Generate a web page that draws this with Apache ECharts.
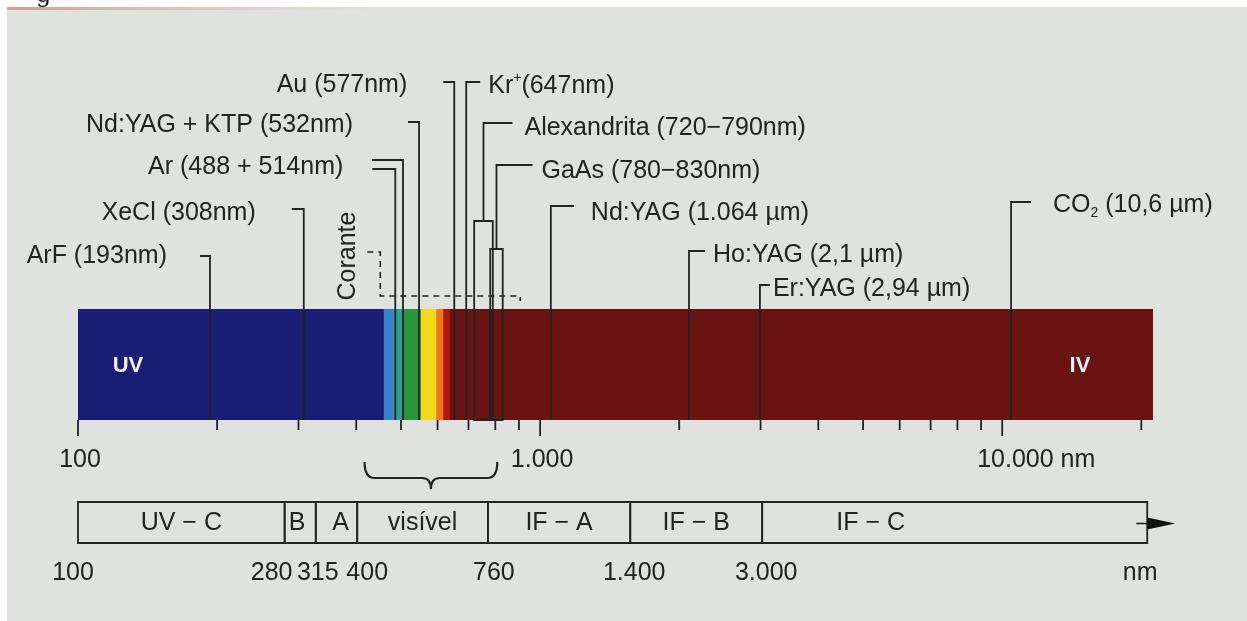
<!DOCTYPE html>
<html><head><meta charset="utf-8">
<script src="https://cdn.jsdelivr.net/npm/echarts@6/dist/echarts.min.js"></script>
<style>html,body{margin:0;padding:0;background:#fff;} #c{width:1247px;height:621px;}</style>
</head><body><div id="c"></div>
<script>
// ================= DATA (wavelengths in nm) =================
const spectrumEdgesNm = [100, 459, 481, 505, 552, 596, 617, 638, 21200];
const laserNames = ['ArF (193nm)', 'XeCl (308nm)', 'Ar (488 + 514nm)', '', 'Nd:YAG + KTP (532nm)',
  'Au (577nm)', 'Kr+(647nm)', 'Nd:YAG (1.064 µm)', 'Ho:YAG (2,1 µm)', 'Er:YAG (2,94 µm)', 'CO2 (10,6 µm)'];
// positions where the figure draws each laser line
const laserNm = [193, 308, 486, 505, 547, 652, 692, 1055, 2100, 2990, 10450];
const rangeNames = ['Alexandrita (720−790nm)', 'GaAs (780−830nm)'];
const rangeStartNm = [720, 780];
const rangeEndNm = [790, 830];
const dyeName = 'Corante';
const dyeRangeNm = [451, 906];
const axisTickNm = [100, 200, 300, 400, 500, 600, 700, 800, 900, 1000,
  2000, 3000, 4000, 5000, 6000, 7000, 8000, 9000, 10000, 20000];
const axisLabelNm = [100, 1000, 10000];
const axisLabelText = ['100', '1.000', '10.000 nm'];
const visibleBraceNm = [417, 808];
const bandNames = ['UV − C', 'B', 'A', 'visível', 'IF − A', 'IF − B', 'IF − C'];
const bandEdgesNm = [100, 280, 327, 402, 771, 1567, 3024, 20600];
const bandEdgeLabels = ['100', '280', '315', '400', '760', '1.400', '3.000'];
const bandUnit = 'nm';
const regionNames = ['UV', 'IV'];

// ================= LAYOUT / STYLE =================
const FONT = "'Liberation Sans', Arial, Helvetica, sans-serif";
const FS = 25;
const INK = '#222222';
const BAR = { top: 309, bottom: 420 };
const spectrumColors = ['#1b1d74', '#3b80cc', '#2e9e94', '#2a943e', '#f1da1e', '#ec7a1a', '#b2180f', '#6a1313'];
const laserLayout = [
  { y: 256, side: -1, len: 10, gap: 33, ty: 256 },
  { y: 209, side: -1, len: 12, gap: 36, ty: 213 },
  { y: 169, side: -1, len: 23, gap: 29, ty: 167 },
  { y: 160, side: -1, len: 31, gap: 0, ty: 0 },
  { y: 122, side: -1, len: 11, gap: 55, ty: 125 },
  { y: 82, side: -1, len: 11, gap: 36, ty: 85 },
  { y: 82, side: 1, len: 14, gap: 8, ty: 86 },
  { y: 206, side: 1, len: 23, gap: 17, ty: 213 },
  { y: 251, side: 1, len: 16, gap: 8, ty: 255 },
  { y: 285, side: 1, len: 10, gap: 3, ty: 289 },
  { y: 202, side: 1, len: 20, gap: 22, ty: 205 }
];
const rangeLayout = [
  { top: 221, y: 123, len: 29, gap: 12, ty: 128 },
  { top: 249, y: 165, len: 36, gap: 9, ty: 171 }
];
const DYE = { stub: 13, topY: 252, baseY: 296, tick: 5, textDx: -32, textY: 256 };
const TICK = { major: 16, minor: 10, labelY: 460, labelShift: [2, 2, -25], align: ['center', 'center', 'left'] };
const BRACE = { top: 462, mid: 478, tip: 489 };
const BAND = { top: 502, bottom: 543, textY: 523, edgeY: 573,
  labelShift: [0, -3, 4, 0, 0, 0, -84], edgeShift: [-5, -13, 2, 10, 6, 4, 4], unitShift: -7 };
const REGION = { y: 366, at: [128, 1080] };

const richStyles = {
  n: { fontFamily: FONT, fontSize: FS, fill: INK, lineHeight: 30 },
  sup: { fontFamily: FONT, fontSize: 14, fill: INK, lineHeight: 30, verticalAlign: 'top' },
  sub: { fontFamily: FONT, fontSize: 14, fill: INK, lineHeight: 30, verticalAlign: 'bottom' }
};
function labelText(s) {
  if (s.indexOf('Kr+') === 0) return '{n|Kr}{sup|+}{n|' + s.slice(3) + '}';
  if (s.indexOf('CO2') === 0) return '{n|CO}{sub|2}{n|' + s.slice(3) + '}';
  return '{n|' + s + '}';
}
function textEl(s, x, y, align) {
  return { type: 'text', style: { text: labelText(s), rich: richStyles, x: x, y: y, align: align, verticalAlign: 'middle' } };
}
const lineStyle = { stroke: INK, lineWidth: 1.8, fill: 'none' };

const chart = echarts.init(document.getElementById('c'), null, { renderer: 'canvas' });
function X(api, nm) { return api.coord([nm, 0.5])[0]; }

const series = [];

// spectrum bar
series.push({
  type: 'custom', silent: true, clip: false,
  data: spectrumColors.map((c, i) => [spectrumEdgesNm[i], 0.5]),
  renderItem(params, api) {
    const i = params.dataIndex;
    const x0 = X(api, spectrumEdgesNm[i]), x1 = X(api, spectrumEdgesNm[i + 1]);
    return { type: 'rect', shape: { x: x0, y: BAR.top, width: x1 - x0 + (i < spectrumColors.length - 1 ? 0.6 : 0), height: BAR.bottom - BAR.top },
      style: { fill: spectrumColors[i] } };
  }
});

// region names inside bar
series.push({
  type: 'custom', silent: true, clip: false,
  data: regionNames.map(() => [100, 0.5]),
  renderItem(params) {
    const i = params.dataIndex;
    return { type: 'text', style: { text: regionNames[i], x: REGION.at[i], y: REGION.y, align: 'center', verticalAlign: 'middle',
      fontFamily: FONT, fontSize: 22, fontWeight: 'bold', fill: '#eef0f4' } };
  }
});

// laser lines
series.push({
  type: 'custom', silent: true, clip: false,
  data: laserNm.map(v => [v, 0.5]),
  renderItem(params, api) {
    const i = params.dataIndex, L = laserLayout[i];
    const x = X(api, laserNm[i]);
    const bx = x + L.side * L.len;
    const ch = [{ type: 'polyline', shape: { points: [[bx, L.y], [x, L.y], [x, BAR.bottom]] }, style: lineStyle }];
    if (laserNames[i]) ch.push(textEl(laserNames[i], bx + L.side * L.gap, L.ty, L.side < 0 ? 'right' : 'left'));
    return { type: 'group', children: ch };
  }
});

// wavelength ranges (boxes)
series.push({
  type: 'custom', silent: true, clip: false,
  data: rangeStartNm.map(v => [v, 0.5]),
  renderItem(params, api) {
    const i = params.dataIndex, R = rangeLayout[i];
    const x0 = X(api, rangeStartNm[i]), x1 = X(api, rangeEndNm[i]);
    const xm = X(api, Math.sqrt(rangeStartNm[i] * rangeEndNm[i]));
    return { type: 'group', children: [
      { type: 'rect', shape: { x: x0, y: R.top, width: x1 - x0, height: BAR.bottom - R.top }, style: lineStyle },
      { type: 'polyline', shape: { points: [[xm + R.len, R.y], [xm, R.y], [xm, R.top]] }, style: lineStyle },
      textEl(rangeNames[i], xm + R.len + R.gap, R.ty, 'left')
    ] };
  }
});

// dye laser (Corante) dashed range
series.push({
  type: 'custom', silent: true, clip: false,
  data: [[dyeRangeNm[0], 0.5]],
  renderItem(params, api) {
    const x0 = X(api, dyeRangeNm[0]), x1 = X(api, dyeRangeNm[1]);
    const dash = { stroke: INK, lineWidth: 1.6, fill: 'none', lineDash: [6, 5] };
    return { type: 'group', children: [
      { type: 'polyline', shape: { points: [[x0 - DYE.stub, DYE.topY], [x0, DYE.topY], [x0, DYE.baseY], [x1, DYE.baseY], [x1, DYE.baseY + DYE.tick]] }, style: dash },
      { type: 'text', x: x0 + DYE.textDx, y: DYE.textY, rotation: Math.PI / 2,
        style: { text: dyeName, x: 0, y: 0, align: 'center', verticalAlign: 'middle', fontFamily: FONT, fontSize: FS, fill: INK } }
    ] };
  }
});

// axis ticks
series.push({
  type: 'custom', silent: true, clip: false,
  data: axisTickNm.map(v => [v, 0.5]),
  renderItem(params, api) {
    const v = axisTickNm[params.dataIndex];
    const x = X(api, v);
    const major = Math.abs(Math.log10(v) - Math.round(Math.log10(v))) < 1e-9;
    return { type: 'line', shape: { x1: x, y1: BAR.bottom, x2: x, y2: BAR.bottom + (major ? TICK.major : TICK.minor) },
      style: { stroke: INK, lineWidth: 1.8 } };
  }
});

// axis labels
series.push({
  type: 'custom', silent: true, clip: false,
  data: axisLabelNm.map(v => [v, 0.5]),
  renderItem(params, api) {
    const i = params.dataIndex;
    const x = X(api, axisLabelNm[i]) + TICK.labelShift[i];
    return { type: 'text', style: { text: axisLabelText[i], x: x, y: TICK.labelY, align: TICK.align[i], verticalAlign: 'middle',
      fontFamily: FONT, fontSize: FS, fill: INK } };
  }
});

// brace for visible range
series.push({
  type: 'custom', silent: true, clip: false,
  data: [[visibleBraceNm[0], 0.5]],
  renderItem(params, api) {
    const a = X(api, visibleBraceNm[0]), b = X(api, visibleBraceNm[1]);
    const m = (a + b) / 2, t = BRACE.top, c = BRACE.mid, p = BRACE.tip;
    const d = 'M' + a + ',' + t + ' Q' + a + ',' + c + ' ' + (a + 10) + ',' + c + ' L' + (m - 9) + ',' + c +
      ' Q' + m + ',' + c + ' ' + m + ',' + p + ' Q' + m + ',' + c + ' ' + (m + 9) + ',' + c +
      ' L' + (b - 10) + ',' + c + ' Q' + b + ',' + c + ' ' + b + ',' + t;
    return { type: 'path', shape: { pathData: d }, style: { stroke: INK, lineWidth: 2.2, fill: 'none' } };
  }
});

// lower band cells
series.push({
  type: 'custom', silent: true, clip: false,
  data: bandNames.map((n, i) => [bandEdgesNm[i], 0.5]),
  renderItem(params, api) {
    const i = params.dataIndex;
    const x0 = X(api, bandEdgesNm[i]), x1 = X(api, bandEdgesNm[i + 1]);
    const ch = [
      { type: 'rect', shape: { x: x0, y: BAND.top, width: x1 - x0, height: BAND.bottom - BAND.top }, style: { stroke: INK, lineWidth: 1.8, fill: 'none' } },
      { type: 'text', style: { text: bandNames[i], x: (x0 + x1) / 2 + BAND.labelShift[i], y: BAND.textY, align: 'center', verticalAlign: 'middle', fontFamily: FONT, fontSize: FS, fill: INK } },
      { type: 'text', style: { text: bandEdgeLabels[i], x: x0 + BAND.edgeShift[i], y: BAND.edgeY, align: 'center', verticalAlign: 'middle', fontFamily: FONT, fontSize: FS, fill: INK } }
    ];
    if (i === bandNames.length - 1) {
      const ym = (BAND.top + BAND.bottom) / 2 + 1;
      ch.push({ type: 'line', shape: { x1: x1 - 11, y1: ym, x2: x1 + 4, y2: ym }, style: { stroke: INK, lineWidth: 1.6 } });
      ch.push({ type: 'polygon', shape: { points: [[x1, ym - 6], [x1 + 28, ym], [x1, ym + 6]] }, style: { fill: '#111' } });
      ch.push({ type: 'text', style: { text: bandUnit, x: x1 + BAND.unitShift, y: BAND.edgeY, align: 'center', verticalAlign: 'middle', fontFamily: FONT, fontSize: FS, fill: INK } });
    }
    return { type: 'group', children: ch };
  }
});

chart.setOption({
  animation: false,
  backgroundColor: '#ffffff',
  graphic: [
    { type: 'rect', z: -10, shape: { x: 7, y: 7, width: 1240, height: 614 }, style: { fill: '#dfe2de' }, silent: true },
    { type: 'rect', z: -9, shape: { x: 7, y: 7, width: 370, height: 3 }, silent: true,
      style: { fill: new echarts.graphic.LinearGradient(0, 0, 1, 0, [{ offset: 0, color: '#d89a90' }, { offset: 1, color: 'rgba(230,180,170,0)' }]) } },
    { type: 'text', z: -8, silent: true, style: { text: 'g', x: 36, y: -16, fontFamily: "'DejaVu Serif', serif", fontSize: 24, fill: '#111' } }
  ],
  grid: { left: 78, right: 94, top: 0, bottom: 0 },
  xAxis: { type: 'log', logBase: 10, min: 100, max: 21200, show: false },
  yAxis: { type: 'value', min: 0, max: 1, show: false },
  series: series
});
</script></body></html>
